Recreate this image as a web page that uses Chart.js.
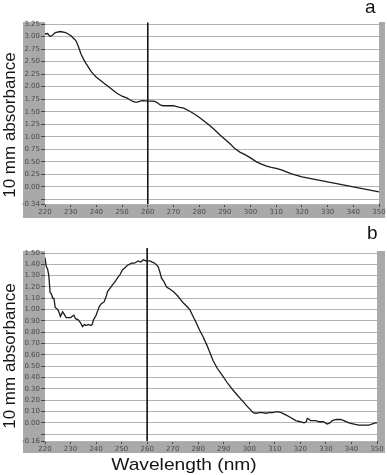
<!DOCTYPE html>
<html>
<head>
<meta charset="utf-8">
<script src="https://cdn.jsdelivr.net/npm/chart.js@4.4.1/dist/chart.umd.min.js"></script>
<style>
  html, body { margin: 0; padding: 0; background: #fff; }
  #wrap { position: relative; width: 387px; height: 475px; background: #fff; overflow: hidden; }
  canvas { position: absolute; left: 0; }
  .ytitle { position: absolute; white-space: nowrap; font: 17px "Liberation Sans", Arial, sans-serif; line-height: 17px; color: #151515; transform: translate(-50%, -50%) rotate(-90deg); }
  .plabel { position: absolute; font: 19px "Liberation Sans", Arial, sans-serif; line-height: 19px; color: #151515; }
  .xtitle { position: absolute; white-space: nowrap; font: 17px "Liberation Sans", Arial, sans-serif; line-height: 17px; color: #151515; transform: translateX(-50%) scaleX(1.13); }
</style>
</head>
<body>
<div id="wrap">
  <canvas id="chartA" width="387" height="220" style="top:0px;width:387px;height:220px"></canvas>
  <canvas id="chartB" width="387" height="255" style="top:220px;width:387px;height:255px"></canvas>
  <div class="ytitle" style="left:8.5px;top:124.5px">10 mm absorbance</div>
  <div class="ytitle" style="left:8.5px;top:355.5px">10 mm absorbance</div>
  <div class="plabel" style="left:365px;top:-3.5px">a</div>
  <div class="plabel" style="left:367px;top:223px">b</div>
  <div class="xtitle" style="left:183.5px;top:456px">Wavelength (nm)</div>
</div>
<script>
// ---------------- data ----------------
const panelLabels = ["a", "b"];
const yAxisTitle = "10 mm absorbance";
const xAxisTitle = "Wavelength (nm)";
const markerWavelength = 260;

const xTicks = [220, 230, 240, 250, 260, 270, 280, 290, 300, 310, 320, 330, 340, 350];

// panel a
const wavelengthA = [220, 221, 222, 223, 224, 226, 228, 229, 230, 231, 232, 233, 234, 235, 236, 237, 238, 239, 240,
  242, 244, 246, 248, 250, 252, 253, 254, 255, 256, 257, 258, 260, 262, 263, 264, 265, 266, 268, 270,
  272, 274, 276, 278, 280, 282, 284, 286, 288, 290, 292, 294, 296, 298, 300, 302, 304, 306, 308, 310,
  312, 314, 316, 318, 320, 322, 324, 326, 328, 330, 332, 334, 336, 338, 340, 342, 344, 346, 348, 350];
const absorbanceA = [3.05, 3.06, 3.00, 3.03, 3.08, 3.10, 3.08, 3.05, 3.02, 2.97, 2.92, 2.80, 2.65, 2.55, 2.46, 2.38, 2.30, 2.24, 2.19,
  2.11, 2.03, 1.95, 1.87, 1.81, 1.77, 1.74, 1.71, 1.69, 1.69, 1.71, 1.72, 1.71, 1.71, 1.70, 1.67, 1.63, 1.62, 1.62, 1.62,
  1.59, 1.57, 1.52, 1.46, 1.39, 1.31, 1.23, 1.14, 1.04, 0.95, 0.86, 0.76, 0.69, 0.64, 0.58, 0.51, 0.46, 0.42, 0.39, 0.37,
  0.34, 0.30, 0.26, 0.23, 0.20, 0.18, 0.16, 0.14, 0.12, 0.10, 0.08, 0.06, 0.04, 0.02, 0.00, -0.02, -0.04, -0.06, -0.08, -0.10];
const yTicksA = [3.25, 3.00, 2.75, 2.50, 2.25, 2.00, 1.75, 1.50, 1.25, 1.00, 0.75, 0.50, 0.25, 0.00, -0.25, -0.34];
const yTickLabelsA = ["3.25", "3.00", "2.75", "2.50", "2.25", "2.00", "1.75", "1.50", "1.25", "1.00", "0.75", "0.50", "0.25", "0.00", "", "-0.34"];
const yRangeA = [-0.34, 3.25];
const markerSpanA = [-0.34, 3.28];

// panel b
const wavelengthB = [220, 220.5, 221, 221.5, 222, 222.5, 223, 223.5, 224, 224.5, 225, 225.6, 226, 226.9, 227.5, 228.3, 229, 230,
  231.3, 232, 233, 234, 234.7, 235.5, 236, 237, 238, 238.5, 239, 240, 241.3, 242, 243.2, 244, 244.5, 245.5, 246.5,
  247.5, 248.4, 249.4, 250.3, 251.3, 252.2, 253.9, 255, 256.5, 257.5, 258.5, 259.5, 261.1, 262, 263, 264.3, 265,
  265.6, 266.5, 267.6, 269, 270.2, 272, 274.1, 275.5, 276.7, 278, 279.3, 280.5, 281.9, 283.5, 285.8, 287.5, 289.7,
  291.5, 293.6, 295.5, 297.5, 299, 300.7, 301.5, 302.6, 304, 305.2, 306.5, 307.8, 309, 311, 312.5, 314.3, 316,
  318.2, 320, 321.4, 322.3, 322.7, 323.5, 324, 326, 327.3, 329, 330.5, 331.5, 332.5, 334, 335.7, 337, 339, 341,
  342.9, 345, 346.8, 348, 349.4, 350];
const absorbanceB = [1.46, 1.38, 1.36, 1.30, 1.15, 1.14, 1.10, 1.10, 1.02, 1.01, 1.00, 0.97, 0.94, 0.98, 0.96, 0.93, 0.93, 0.93,
  0.95, 0.92, 0.91, 0.88, 0.85, 0.87, 0.86, 0.87, 0.86, 0.87, 0.91, 0.95, 1.03, 1.05, 1.07, 1.12, 1.16, 1.19, 1.22,
  1.25, 1.28, 1.31, 1.35, 1.37, 1.39, 1.41, 1.41, 1.43, 1.42, 1.44, 1.43, 1.43, 1.42, 1.41, 1.38, 1.33,
  1.28, 1.25, 1.20, 1.18, 1.16, 1.12, 1.06, 1.03, 1.00, 0.94, 0.88, 0.82, 0.76, 0.68, 0.55, 0.48, 0.41,
  0.35, 0.29, 0.24, 0.19, 0.15, 0.11, 0.09, 0.085, 0.09, 0.09, 0.085, 0.09, 0.09, 0.10, 0.09, 0.07, 0.05,
  0.02, 0.01, 0.00, 0.01, 0.04, 0.03, 0.02, 0.02, 0.01, 0.01, -0.01, 0.00, 0.02, 0.03, 0.03, 0.02, 0.00, -0.01,
  -0.02, -0.02, -0.02, -0.01, 0.00, 0.00];
const yTicksB = [1.50, 1.40, 1.30, 1.20, 1.10, 1.00, 0.90, 0.80, 0.70, 0.60, 0.50, 0.40, 0.30, 0.20, 0.10, 0.00, -0.10, -0.16];
const yTickLabelsB = ["1.50", "1.40", "1.30", "1.20", "1.10", "1.00", "0.90", "0.80", "0.70", "0.60", "0.50", "0.40", "0.30", "0.20", "0.10", "0.00", "", "-0.16"];
const yRangeB = [-0.16, 1.50];
const markerSpanB = [-0.16, 1.545];

// ---------------- drawing ----------------
const FRAME_GRAY = '#a9a9a9';
const TICK_FONT = { family: '"DejaVu Sans", sans-serif', size: 7 };

function framePlugin(bottomExtra, rightExtra) {
  return {
    id: 'grayFrame',
    beforeDraw(chart) {
      const a = chart.chartArea, ctx = chart.ctx;
      ctx.save();
      ctx.fillStyle = FRAME_GRAY;
      ctx.fillRect(23, a.top - 2, a.right + rightExtra - 23, a.bottom - a.top + 2 + bottomExtra);
      ctx.fillStyle = '#ffffff';
      ctx.fillRect(a.left, a.top - 2, a.right - a.left, a.bottom - a.top + 2);
      ctx.restore();
    }
  };
}

function makeChart(id, wl, abs, yTicks, yLabels, yRange, markerSpan, opts) {
  const series = wl.map((w, i) => ({ x: w, y: abs[i] }));
  const marker = markerSpan.map(v => ({ x: markerWavelength, y: v }));
  return new Chart(document.getElementById(id), {
    type: 'line',
    data: {
      datasets: [
        { data: series, borderColor: '#1c1c1c', borderWidth: 1.3, pointRadius: 0, tension: 0, fill: false },
        { data: marker, borderColor: '#111111', borderWidth: 1.6, pointRadius: 0, clip: false, fill: false }
      ]
    },
    options: {
      responsive: false,
      animation: false,
      devicePixelRatio: 1,
      layout: { padding: { top: opts.top, right: opts.right, left: 0, bottom: 0 } },
      plugins: { legend: { display: false }, tooltip: { enabled: false } },
      scales: {
        x: {
          type: 'linear', min: 220, max: 350,
          afterBuildTicks: s => { s.ticks = xTicks.map(v => ({ value: v })); },
          afterFit: s => { s.height = opts.xh; },
          grid: { drawOnChartArea: false, drawTicks: true, tickLength: 3, tickColor: '#444', lineWidth: 1 },
          border: { display: false },
          ticks: { font: TICK_FONT, color: '#4a4a4a', padding: 1, maxRotation: 0, autoSkip: false, callback: v => String(v) }
        },
        y: {
          type: 'linear', min: yRange[0], max: yRange[1],
          afterBuildTicks: s => { s.ticks = yTicks.map(v => ({ value: v })); },
          afterFit: s => { s.width = 45; },
          grid: { color: '#b3b3b3', lineWidth: 1, drawTicks: true, tickLength: 4, tickColor: '#444' },
          border: { display: false },
          ticks: { font: TICK_FONT, color: '#4a4a4a', padding: 1, autoSkip: false,
                   callback: (v, i) => yLabels[i] }
        }
      }
    },
    plugins: [framePlugin(opts.bottomGray, opts.rightGray)]
  });
}

makeChart('chartA', wavelengthA, absorbanceA, yTicksA, yTickLabelsA, yRangeA, markerSpanA,
  { top: 24, right: 8, xh: 16, bottomGray: 14, rightGray: 6 });
makeChart('chartB', wavelengthB, absorbanceB, yTicksB, yTickLabelsB, yRangeB, markerSpanB,
  { top: 33, right: 10, xh: 34, bottomGray: 12, rightGray: 8 });
</script>
</body>
</html>
